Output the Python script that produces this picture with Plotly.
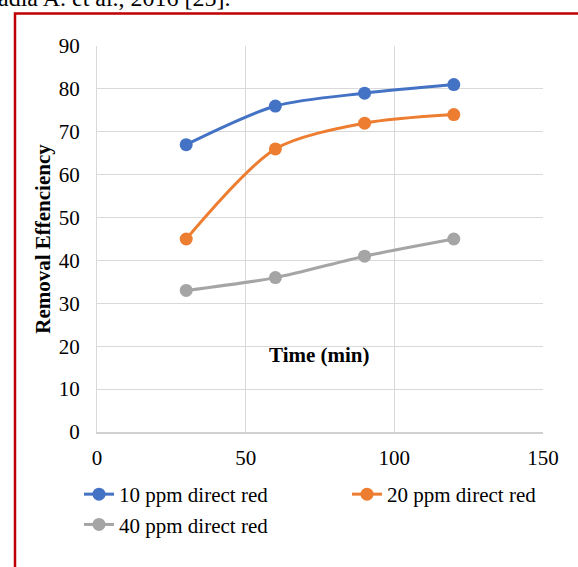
import plotly.graph_objects as go

time_min = [30, 60, 90, 120]
series_names = ["10 ppm direct red", "20 ppm direct red", "40 ppm direct red"]
ppm10 = [67, 76, 79, 81]
ppm20 = [45, 66, 72, 74]
ppm40 = [33, 36, 41, 45]
colors = ["#4472C4", "#ED7D31", "#A5A5A5"]
x_ticks = [0, 50, 100, 150]
y_ticks = [0, 10, 20, 30, 40, 50, 60, 70, 80, 90]

W, H = 578, 567
L, R, T, B = 97, 35, 46, 135
pw, ph = W - L - R, H - T - B

def px(x):
    return (x - L) / pw

def py(y):
    return (H - B - y) / ph

font = "Liberation Serif, Times New Roman, serif"

fig = go.Figure()
for name, vals, c in zip(series_names, [ppm10, ppm20, ppm40], colors):
    fig.add_trace(go.Scatter(
        x=time_min, y=vals, name=name, mode="lines+markers",
        line=dict(color=c, width=3, shape="spline", smoothing=0.8),
        marker=dict(color=c, size=13),
    ))

fig.update_layout(
    width=W, height=H,
    margin=dict(l=L, r=R, t=T, b=B, autoexpand=False),
    paper_bgcolor="white", plot_bgcolor="white",
    font=dict(family=font, size=21, color="#000000"),
    xaxis=dict(range=[0, 150], tickvals=x_ticks, showgrid=True, gridcolor="#D9D9D9",
               gridwidth=1, zeroline=False, showline=True, linecolor="#D0D0D0", linewidth=1.5,
               ticks="", ticklabelstandoff=6, automargin=False,
               tickfont=dict(family=font, size=21)),
    yaxis=dict(range=[0, 90], tickvals=y_ticks, showgrid=True, gridcolor="#D9D9D9",
               gridwidth=1, zeroline=False, showline=True, linecolor="#D9D9D9", linewidth=1,
               ticks="", ticklabelstandoff=12, automargin=False,
               tickfont=dict(family=font, size=21),
               title=dict(text="<b>Removal Effenciency</b>", standoff=2,
                          font=dict(family=font, size=21))),
    legend=dict(orientation="h", x=px(79), y=py(474), xanchor="left", yanchor="top",
                entrywidth=223, entrywidthmode="pixels",
                font=dict(family=font, size=21), bgcolor="rgba(0,0,0,0)"),
    showlegend=True,
)

fig.add_annotation(text="<b>Time (min)</b>", xref="paper", yref="paper",
                   x=px(319), y=py(369), showarrow=False,
                   font=dict(family=font, size=21))

fig.add_annotation(text="adia A. et al., 2016 [25].", xref="paper", yref="paper",
                   x=px(-4), y=py(13), xanchor="left", yanchor="bottom", showarrow=False,
                   font=dict(family=font, size=24))

fig.add_shape(type="rect", xref="paper", yref="paper",
              x0=px(15), x1=px(600), y0=py(13.5), y1=py(600),
              line=dict(color="#C00000", width=2.5), fillcolor="rgba(0,0,0,0)", layer="below")

fig.write_html("out.html")
